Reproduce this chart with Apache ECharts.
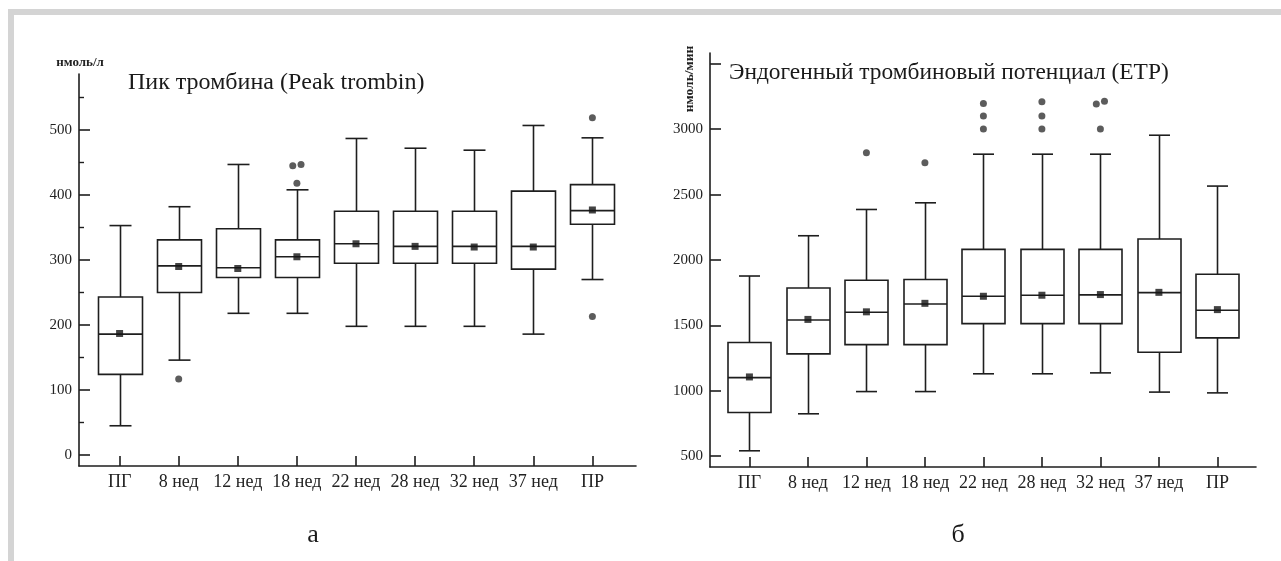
<!DOCTYPE html>
<html>
<head>
<meta charset="utf-8">
<script src="https://cdn.jsdelivr.net/npm/echarts@6/dist/echarts.min.js"></script>
<style>
html,body{margin:0;padding:0;background:#fff;}
#c{width:1281px;height:561px;}
</style>
</head>
<body>
<div id="c"></div>
<script>
// ---- data ----
const categories = ['ПГ', '8 нед', '12 нед', '18 нед', '22 нед', '28 нед', '32 нед', '37 нед', 'ПР'];

// Peak thrombin, nmol/l
const peakMin    = [45, 146, 218, 218, 198, 198, 198, 186, 270];
const peakQ1     = [124, 250, 273, 273, 295, 295, 295, 286, 355];
const peakMedian = [186, 291, 288, 305, 325, 321, 321, 321, 376];
const peakQ3     = [243, 331, 348, 331, 375, 375, 375, 406, 416];
const peakMax    = [353, 382, 447, 408, 487, 472, 469, 507, 488];
const peakMean   = [187, 290, 287, 305, 325, 321, 320, 320, 377];
const peakOutliers = [[1, 117], [3, 445], [3, 447], [3, 418], [8, 519], [8, 213]];
const peakTicks  = [0, 100, 200, 300, 400, 500];
const peakMinorTicks = [50, 150, 250, 350, 450, 550];

// Endogenous thrombin potential, nmol/min
const etpMin    = [540, 823, 993, 993, 1129, 1129, 1136, 989, 983];
const etpQ1     = [833, 1281, 1352, 1352, 1513, 1513, 1513, 1294, 1404];
const etpMedian = [1100, 1541, 1600, 1663, 1722, 1730, 1733, 1750, 1615];
const etpQ3     = [1368, 1785, 1845, 1850, 2081, 2081, 2081, 2160, 1890];
const etpMax    = [1877, 2185, 2386, 2437, 2809, 2809, 2809, 2954, 2565];
const etpMean   = [1105, 1545, 1603, 1668, 1722, 1730, 1735, 1752, 1620];
const etpOutliers = [[2, 2819], [3, 2743], [4, 3002], [4, 3102], [4, 3196],
                     [5, 3002], [5, 3102], [5, 3211], [6, 3002], [6, 3193], [6, 3214]];
const etpTicks  = [500, 1000, 1500, 2000, 2500, 3000, 3500];
const etpLabels = [500, 1000, 1500, 2000, 2500, 3000];

// ---- styling ----
const LINE = '#1e1e1e';
const SERIF = '"Liberation Serif", "DejaVu Serif", serif';
const catIdx = categories.map((c, i) => i);

function boxData(mn, q1, md, q3, mx) {
  return categories.map((c, i) => [i, mn[i], q1[i], md[i], q3[i], mx[i]]);
}
function meanData(m) { return categories.map((c, i) => [i, m[i]]); }
// outliers with (almost) equal values in one group are drawn side by side
function outlierData(list, closeGap) {
  const out = [];
  const sorted = list.slice().sort((a, b) => a[0] - b[0] || a[1] - b[1]);
  for (let k = 0; k < sorted.length; k++) {
    const [c, v] = sorted[k];
    const prev = sorted[k - 1], next = sorted[k + 1];
    let x = c;
    if (next && next[0] === c && Math.abs(next[1] - v) < closeGap) x = c - 0.07;
    else if (prev && prev[0] === c && Math.abs(prev[1] - v) < closeGap) x = c + 0.07;
    out.push([x, v]);
  }
  return out;
}

function boxRender(boxW, capW) {
  return function (params, api) {
    const x = api.value(0);
    const pMin = api.coord([x, api.value(1)]);
    const pQ1 = api.coord([x, api.value(2)]);
    const pMed = api.coord([x, api.value(3)]);
    const pQ3 = api.coord([x, api.value(4)]);
    const pMax = api.coord([x, api.value(5)]);
    const cx = Math.round(pMin[0]) + 0.5, hb = boxW / 2, hc = capW / 2;
    const st = { stroke: LINE, lineWidth: 1.6, fill: null };
    return {
      type: 'group',
      children: [
        { type: 'line', shape: { x1: cx, y1: pMax[1], x2: cx, y2: pQ3[1] }, style: st },
        { type: 'line', shape: { x1: cx - hc, y1: pMax[1], x2: cx + hc, y2: pMax[1] }, style: st },
        { type: 'line', shape: { x1: cx, y1: pQ1[1], x2: cx, y2: pMin[1] }, style: st },
        { type: 'line', shape: { x1: cx - hc, y1: pMin[1], x2: cx + hc, y2: pMin[1] }, style: st },
        { type: 'rect', shape: { x: cx - hb, y: pQ3[1], width: boxW, height: pQ1[1] - pQ3[1] }, style: st },
        { type: 'line', shape: { x1: cx - hb, y1: pMed[1], x2: cx + hb, y2: pMed[1] }, style: st }
      ]
    };
  };
}

function catAxis(gridIndex, min, max) {
  return {
    gridIndex, type: 'value', min, max,
    splitLine: { show: false },
    axisLine: { show: true, onZero: false, lineStyle: { color: LINE, width: 1.6 } },
    axisTick: { show: true, inside: true, length: 10, customValues: catIdx, lineStyle: { color: LINE, width: 1.6 } },
    axisLabel: {
      customValues: catIdx, formatter: v => categories[Math.round(v)],
      fontFamily: SERIF, fontSize: 18, color: '#222', margin: 7
    }
  };
}

const chart = echarts.init(document.getElementById('c'));
chart.setOption({
  animation: false,
  backgroundColor: '#fff',
  grid: [
    { left: 79, top: 74, width: 557, height: 392, containLabel: false },
    { left: 710, top: 53, width: 546, height: 414, containLabel: false }
  ],
  xAxis: [
    catAxis(0, -0.687, 8.738),
    catAxis(1, -0.674, 8.66)
  ],
  yAxis: [
    {
      gridIndex: 0, type: 'value', min: -16.9, max: 586.2, position: 'left',
      splitLine: { show: false },
      axisLine: { show: true, onZero: false, lineStyle: { color: LINE, width: 1.6 } },
      axisTick: { show: true, inside: true, length: 11, customValues: peakTicks, lineStyle: { color: LINE, width: 1.6 } },
      axisLabel: { customValues: peakTicks, formatter: v => String(v), fontFamily: SERIF, fontSize: 15, color: '#222', margin: 7 }
    },
    {
      gridIndex: 0, type: 'value', min: -16.9, max: 586.2, position: 'left', offset: 0,
      splitLine: { show: false },
      axisLine: { show: false, onZero: false },
      axisTick: { show: true, inside: true, length: 5, customValues: peakMinorTicks, lineStyle: { color: LINE, width: 1.4 } },
      axisLabel: { show: false }
    },
    {
      gridIndex: 1, type: 'value', min: 416, max: 3583, position: 'left',
      splitLine: { show: false },
      axisLine: { show: true, onZero: false, lineStyle: { color: LINE, width: 1.6 } },
      axisTick: { show: true, inside: true, length: 11, customValues: etpTicks, lineStyle: { color: LINE, width: 1.6 } },
      axisLabel: { customValues: etpLabels, formatter: v => String(v), fontFamily: SERIF, fontSize: 15, color: '#222', margin: 7 }
    }
  ],
  series: [
    {
      type: 'custom', xAxisIndex: 0, yAxisIndex: 0,
      renderItem: boxRender(44, 22),
      encode: { x: 0, y: [1, 2, 3, 4, 5] },
      data: boxData(peakMin, peakQ1, peakMedian, peakQ3, peakMax)
    },
    {
      type: 'scatter', xAxisIndex: 0, yAxisIndex: 0, symbol: 'rect', symbolSize: 7,
      itemStyle: { color: '#141414' }, z: 5, data: meanData(peakMean)
    },
    {
      type: 'scatter', xAxisIndex: 0, yAxisIndex: 0, symbol: 'circle', symbolSize: 7,
      itemStyle: { color: '#333' }, z: 5, data: outlierData(peakOutliers, 9)
    },
    {
      type: 'custom', xAxisIndex: 1, yAxisIndex: 2,
      renderItem: boxRender(43, 21),
      encode: { x: 0, y: [1, 2, 3, 4, 5] },
      data: boxData(etpMin, etpQ1, etpMedian, etpQ3, etpMax)
    },
    {
      type: 'scatter', xAxisIndex: 1, yAxisIndex: 2, symbol: 'rect', symbolSize: 7,
      itemStyle: { color: '#141414' }, z: 5, data: meanData(etpMean)
    },
    {
      type: 'scatter', xAxisIndex: 1, yAxisIndex: 2, symbol: 'circle', symbolSize: 7,
      itemStyle: { color: '#333' }, z: 5, data: outlierData(etpOutliers, 47)
    }
  ],
  graphic: [
    { type: 'rect', shape: { x: 8, y: 9, width: 1273, height: 6 }, style: { fill: '#d4d4d4' }, silent: true },
    { type: 'rect', shape: { x: 8, y: 9, width: 6, height: 552 }, style: { fill: '#d4d4d4' }, silent: true },
    { type: 'text', x: 80, y: 63, style: { text: 'нмоль/л', font: 'bold 13px ' + SERIF, fill: '#222', textAlign: 'center', textVerticalAlign: 'middle' } },
    { type: 'text', x: 128, y: 83, style: { text: 'Пик тромбина (Peak trombin)', font: '24px ' + SERIF, fill: '#1a1a1a', textAlign: 'left', textVerticalAlign: 'middle' } },
    { type: 'text', x: 690, y: 79, rotation: Math.PI / 2, style: { text: 'нмоль/мин', font: 'bold 13.5px ' + SERIF, fill: '#222', textAlign: 'center', textVerticalAlign: 'middle' } },
    { type: 'text', x: 729, y: 73, style: { text: 'Эндогенный тромбиновый потенциал (ETP)', font: '23.4px ' + SERIF, fill: '#1a1a1a', textAlign: 'left', textVerticalAlign: 'middle' } },
    { type: 'text', x: 313, y: 535, style: { text: 'а', font: '26px ' + SERIF, fill: '#1a1a1a', textAlign: 'center', textVerticalAlign: 'middle' } },
    { type: 'text', x: 958, y: 535, style: { text: 'б', font: '26px ' + SERIF, fill: '#1a1a1a', textAlign: 'center', textVerticalAlign: 'middle' } }
  ]
});
</script>
</body>
</html>
